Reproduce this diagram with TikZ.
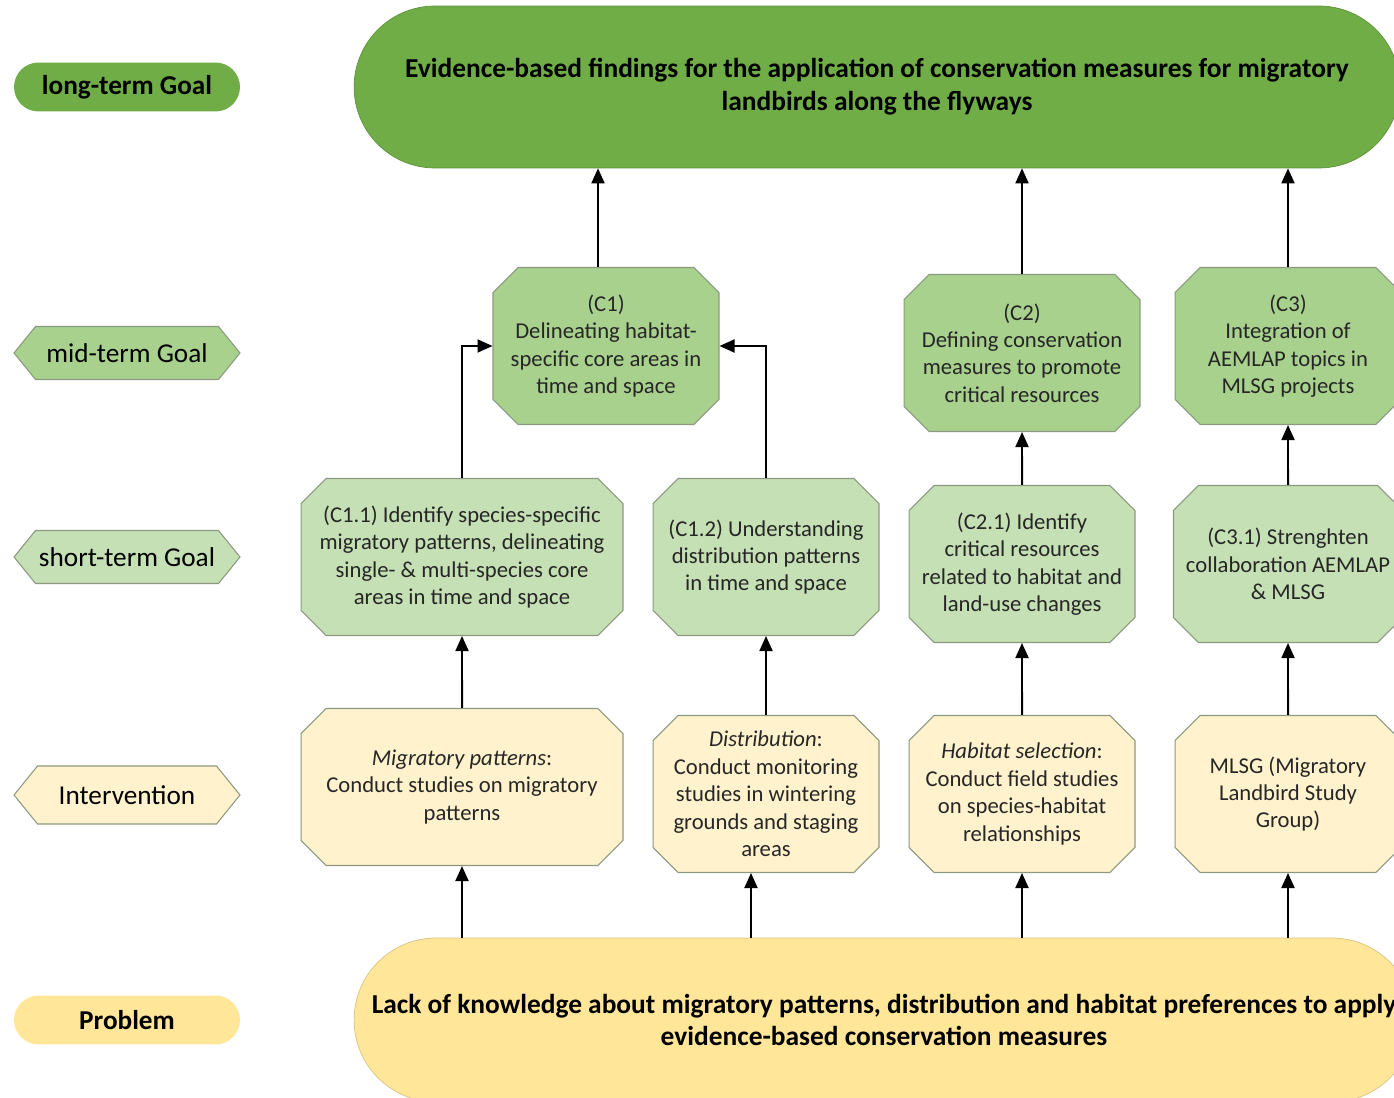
\documentclass[tikz,border=0pt]{standalone}
\usepackage{fontspec}
\setmainfont{Carlito}
\usetikzlibrary{shapes.misc,shapes.symbols,arrows.meta}
\definecolor{goalgreen}{HTML}{70AD47}
\definecolor{midgreen}{HTML}{A9D18E}
\definecolor{shortgreen}{HTML}{C5E0B4}
\definecolor{intyellow}{HTML}{FFF2CC}
\definecolor{probyellow}{HTML}{FFE699}
\definecolor{edgegray}{HTML}{8C9980}

\begin{document}
\begin{tikzpicture}[x=0.02cm,y=-0.02cm,>={Triangle[length=0.3cm,width=0.26cm]},line width=1.1pt,
    big node/.style={rounded rectangle,draw=goalgreen!85!black,line width=0.4pt,inner sep=0pt,align=center,font=\fontsize{15.6}{18.7}\selectfont\bfseries},
    box node/.style={chamfered rectangle,chamfered rectangle xsep=0.25cm,chamfered rectangle ysep=0.25cm,draw=edgegray,line width=0.6pt,inner sep=0pt,minimum width=4.52cm,minimum height=3.14cm,align=center,text=black!85,font=\fontsize{12.9}{15.6}\selectfont},
    tag node/.style={signal,signal to=west and east,signal pointer angle=102,draw=edgegray,line width=0.6pt,inner sep=0pt,minimum width=4.52cm,minimum height=1.06cm,font=\fontsize{15.5}{18}\selectfont},
    pill node/.style={rounded rectangle,draw=none,inner sep=0pt,minimum width=4.52cm,minimum height=0.98cm,font=\fontsize{15.5}{18}\selectfont\bfseries}]
    \useasboundingbox (0,0) rectangle (1394,1098);
    \clip (0,0) rectangle (1394,1098);

    % legend
    \node[pill node,fill=goalgreen] (lg) at (127,87) {long-term Goal};
    \node[tag node,fill=midgreen] (mg) at (127,353) {mid-term Goal};
    \node[tag node,fill=shortgreen] (sg) at (127,557) {short-term Goal};
    \node[tag node,fill=intyellow,minimum height=1.16cm] (iv) at (127,795) {Intervention};
    \node[pill node,fill=probyellow] (pb) at (127,1020) {Problem};

    % goal and problem
    \node[big node,fill=goalgreen,minimum width=20.92cm,minimum height=3.24cm] (goal) at (877,87)
        {Evidence-based findings for the application of conservation measures for migratory\\landbirds along the flyways};
    \node[big node,fill=probyellow,draw=probyellow!85!black,minimum width=21.2cm,minimum height=3.28cm] (prob) at (884,1020)
        {Lack of knowledge about migratory patterns, distribution and habitat preferences to apply\\evidence-based conservation measures};

    % mid-term
    \node[box node,fill=midgreen] (c1) at (606,346) {(C1)\\Delineating habitat-\\specific core areas in\\time and space};
    \node[box node,fill=midgreen,minimum width=4.72cm] (c2) at (1022,353) {(C2)\\Defining conservation\\measures to promote\\critical resources};
    \node[box node,fill=midgreen] (c3) at (1288,346) {(C3)\\Integration of\\AEMLAP topics in\\MLSG projects};

    % short-term
    \node[box node,fill=shortgreen,minimum width=6.44cm] (c11) at (462,557) {(C1.1) Identify species-specific\\migratory patterns, delineating\\single- \& multi-species core\\areas in time and space};
    \node[box node,fill=shortgreen] (c12) at (766,557) {(C1.2) Understanding\\distribution patterns\\in time and space};
    \node[box node,fill=shortgreen] (c21) at (1022,564) {(C2.1) Identify\\critical resources\\related to habitat and\\land-use changes};
    \node[box node,fill=shortgreen] (c31) at (1288,564) {(C3.1) Strenghten\\collaboration AEMLAP\\\& MLSG};

    % interventions
    \node[box node,fill=intyellow,minimum width=6.44cm] (mig) at (462,787) {\textit{Migratory patterns}:\\Conduct studies on migratory\\patterns};
    \node[box node,fill=intyellow] (dist) at (766,794) {\textit{Distribution}:\\Conduct monitoring\\studies in wintering\\grounds and staging\\areas};
    \node[box node,fill=intyellow] (hab) at (1022,794) {\textit{Habitat selection}:\\Conduct field studies\\on species-habitat\\relationships};
    \node[box node,fill=intyellow] (mlsg) at (1288,794) {MLSG (Migratory\\Landbird Study\\Group)};

    \coordinate (dx) at ([xshift=-0.3cm]dist.south);
    \coordinate (cx) at ([xshift=-0.16cm]c1.north);

    \path[->]
        (prob.north -| mig.south) edge (mig.south)
        (prob.north -| dx) edge (dx)
        (prob.north -| hab.south) edge (hab.south)
        (prob.north -| mlsg.south) edge (mlsg.south)
        (mig) edge (c11)
        (dist) edge (c12)
        (hab) edge (c21)
        (mlsg) edge (c31)
        (c21) edge (c2)
        (c31) edge (c3)
        (cx) edge (goal.south -| cx)
        (c2) edge (goal.south -| c2)
        (c3) edge (goal.south -| c3)
        ;
    \draw[->] (c11.north) |- (c1.west);
    \draw[->] (c12.north) |- (c1.east);
\end{tikzpicture}
\end{document}
